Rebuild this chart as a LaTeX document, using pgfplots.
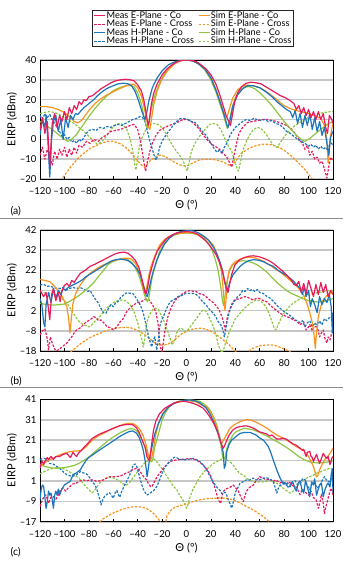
\documentclass[border=0pt]{standalone}
\usepackage{fontspec}
\setmainfont{Lato}
\usepackage{pgfplots}
\pgfplotsset{compat=1.18}

\definecolor{cpink}{RGB}{232,28,90}
\definecolor{corange}{RGB}{247,148,30}
\definecolor{cblue}{RGB}{28,117,188}
\definecolor{cgreen}{RGB}{141,198,63}
\definecolor{cgrid}{RGB}{198,198,198}

\pgfplotsset{
  co/.style={line width=1.2pt, solid, line join=round},
  cross/.style={line width=1.2pt, dash pattern=on 2.4pt off 1.5pt, line join=round},
  meco/.style={co, color=cpink, draw=cpink},
  mecr/.style={cross, color=cpink, draw=cpink},
  seco/.style={co, color=corange, draw=corange},
  secr/.style={cross, color=corange, draw=corange},
  mhco/.style={co, color=cblue, draw=cblue},
  mhcr/.style={cross, color=cblue, draw=cblue},
  shco/.style={co, color=cgreen, draw=cgreen},
  shcr/.style={cross, color=cgreen, draw=cgreen},
  panel/.style={
    scale only axis, width=293pt, anchor=north west,
    xmin=-120, xmax=120,
    xtick={-120,-100,...,120},
    xticklabels={–120,–100,–80,–60,–40,–20,0,20,40,60,80,100,120},
    xtick pos=bottom, ytick pos=left,
    tick align=inside, major tick length=3pt,
    ytick style={draw=none},
    xtick style={black, line width=0.5pt},
    ymajorgrids, grid style={cgrid, line width=1.6pt},
    axis line style={black, line width=0.8pt},
    tick label style={font=\fontsize{9.6}{11}\selectfont},
    label style={font=\fontsize{11}{12}\selectfont},
    xticklabel style={anchor=center, yshift=-12.5pt},
    xlabel={Θ (°)},
    ylabel={EIRP (dBm)},
    xlabel style={at={(axis description cs:0.5,0)}, anchor=center, yshift=-26.5pt},
    ylabel style={at={(axis description cs:-0.0956,0.5)}, anchor=center},
    no markers,
  },
}

\begin{document}
\begin{tikzpicture}
\useasboundingbox (0pt,0pt) rectangle (350pt,-563pt);

% ---------------- panel (a) ----------------
\begin{axis}[panel, at={(40pt,-60pt)}, height=119pt,
  ymin=-20, ymax=40, ytick={-20,-10,...,40},
  yticklabels={–20,–10,0,10,20,30,40},
  legend columns=2, legend cell align=left,
  legend image code/.code={\draw[#1] (0pt,0pt) -- (11pt,0pt);},
  legend style={at={(axis description cs:0.1775,1.42)}, anchor=north west,
    draw=black!85, line width=0.6pt, fill=white, inner xsep=1.5pt, inner ysep=1.2pt,
    row sep=0pt, font=\fontsize{9.2}{9.5}\selectfont,
    nodes={inner xsep=0.6pt, inner ysep=0pt, text height=6.8pt, text depth=1.7pt},
    /tikz/every even column/.append style={column sep=3.5pt}},
]
\addlegendimage{meco}\addlegendentry{Meas E-Plane - Co}
\addlegendimage{seco}\addlegendentry{Sim E-Plane - Co}
\addlegendimage{mecr}\addlegendentry{Meas E-Plane - Cross}
\addlegendimage{secr}\addlegendentry{Sim E-Plane - Cross}
\addlegendimage{mhco}\addlegendentry{Meas H-Plane - Co}
\addlegendimage{shco}\addlegendentry{Sim H-Plane - Co}
\addlegendimage{mhcr}\addlegendentry{Meas H-Plane - Cross}
\addlegendimage{shcr}\addlegendentry{Sim H-Plane - Cross}

\addplot[secr] coordinates {(-120,-30)(-110,-25)(-102,-20)(-95,-14)(-88,-9)(-80,-5)(-72,-2.5)(-65,-1)(-60,-1)(-55,-2)(-50,-4)(-45,-7)(-40,-11)(-36,-13.5)(-34,-14)(-30,-11)(-26,-9)(-22,-8)(-18,-8.5)(-14,-10)(-10,-11.5)(-5,-13)(0,-13.5)(5,-12)(10,-10.5)(15,-10)(20,-10)(25,-10.5)(30,-11.5)(35,-13)(37,-13.5)(40,-11)(45,-7)(50,-5)(55,-3.5)(62,-2.5)(68,-2.5)(74,-3.5)(80,-5.5)(86,-8.5)(92,-12)(98,-16)(103,-20)(110,-26)(120,-32)};
\addplot[shcr] coordinates {(-120,13)(-116,13.5)(-112,14)(-108,13.5)(-104,12.5)(-100,11)(-96,9.5)(-92,8)(-88,6)(-84,4)(-80,1.5)(-76,-1)(-73,-2.5)(-70,-1.5)(-67,0.5)(-64,3)(-61,5.5)(-58,7.5)(-55,8)(-52,7.5)(-49,5)(-46,0)(-44,-6)(-42.5,-12)(-41.5,-15.5)(-40.5,-12)(-39,-5)(-37,0)(-34,4)(-31,6.5)(-28,8)(-25,8)(-22,7)(-19,5)(-16,2)(-13,-1.5)(-10,-4.5)(-7,-7)(-4,-9.5)(-2,-12)(0.5,-16)(2,-12)(4,-6)(7,-2)(10,1)(13,3.5)(16,5.5)(19,7.5)(22,8)(25,7.5)(28,5)(31,1)(34,-3)(37,-6)(39,-10)(41,-14)(42.5,-16)(44,-12)(46,-6)(49,-1)(52,2.5)(55,5)(58,6)(61,5.5)(64,3.5)(67,1)(70,-2)(72,-3.5)(74,-4)(76,-2.5)(79,0.5)(83,3.5)(88,6.5)(93,8.5)(98,10.5)(103,12)(108,13)(113,13.5)(118,14)(120,14)};
\addplot[mecr] coordinates {(-120,-8)(-118,-4)(-116,-10)(-114,-5)(-112,-9)(-110,-13)(-108,-6)(-106,-10)(-104,-5)(-102,-8)(-100,-4)(-98,-9)(-96,-5)(-94,-8)(-92,-4)(-90,-7)(-88,-3)(-85,-4)(-82,-1)(-79,-2)(-76,0)(-72,-1)(-69,1)(-66,2)(-62,4)(-58,4.5)(-54,5)(-50,6)(-46,7)(-43,7.5)(-40,5)(-38,0)(-36,-7)(-34.5,-13)(-33.5,-16)(-32,-11)(-30,-6)(-28,-2)(-25,2)(-22,4.5)(-18,6)(-14,7)(-10,8)(-6,9)(-3,10)(0,10)(3,9.5)(6,8)(10,5.5)(14,2)(18,-1)(22,-3)(26,-4.5)(30,-7)(33,-9)(35.5,-12)(37,-14)(39,-8)(41,-2)(43,3)(46,6)(50,8.5)(54,9)(58,9.5)(62,10)(66,10)(70,9.5)(74,9)(78,8)(82,7)(86,5)(89,3)(92,0)(95,-2)(97,-5)(99,-3)(101,-8)(103,-6)(105,-10)(107,-9)(109,-12)(111,-11)(113,-15)(115,-19.5)(116.5,-14)(118,-9)(120,-11)};
\addplot[mhcr] coordinates {(-120,12)(-118,10)(-116,13)(-114,11)(-112,12.5)(-110,10)(-108,8)(-106,6)(-104,4)(-102,1.5)(-100,2.5)(-98,0)(-96,1)(-94,-1.5)(-92,-0.5)(-90,-2)(-88,0)(-86,-1)(-84,1)(-82,3)(-80,4.5)(-77,5)(-74,4.5)(-71,6)(-68,5.5)(-65,6.5)(-62,6)(-59,7)(-56,7.5)(-53,7)(-50,8)(-47,9)(-44,10)(-41,10.5)(-38,11.5)(-36,11)(-34,9)(-32,4)(-30,-1)(-28,-5)(-26,-9)(-25,-10.5)(-23.5,-8)(-22,-4)(-20,-1)(-17,2)(-14,4.5)(-11,7)(-8,9)(-5,10.5)(-2,10.5)(1,10)(4,9)(7,8.5)(10,6.5)(13,4)(16,2)(19,-1)(21,-3)(23,-5)(25,-6.5)(27,-5.5)(29,-7)(31,-4)(33,-2)(35,1)(37,3.5)(40,6)(43,7.5)(46,9)(49,10)(52,9.5)(55,10.5)(58,10)(61,9.5)(64,10)(67,9)(70,9.5)(73,8)(76,7.5)(79,6)(82,4)(85,3)(88,1.5)(91,0)(94,-1)(97,-2)(100,-3.5)(102,-2.5)(104,-4)(106,-3)(108,-5)(110,-3.5)(112,-5)(114,-4)(116,-6)(117.5,-1)(120,-3)};
\addplot[shco] coordinates {(-120,9)(-115,7)(-110,5)(-105,2.5)(-100,0)(-97,-1)(-94,0)(-90,2.5)(-85,7)(-80,11.5)(-75,15.5)(-70,19)(-65,22)(-60,24.5)(-55,26)(-50,27)(-46,27.3)(-43,26.5)(-40,23.5)(-37,18)(-35,12)(-33,7)(-32,5.5)(-31,8)(-29,15)(-26,22)(-22,28.5)(-18,33)(-14,36)(-10,38.3)(-5,39.6)(0,40)(5,39.6)(10,38)(15,35)(20,30)(24,24)(27,18.5)(30,13)(32,8.5)(33.5,5.5)(35,9)(37,15)(40,21)(44,25)(48,26.5)(52,26.5)(56,25.5)(60,23.5)(65,20.5)(70,17)(75,13)(80,9)(85,5.5)(90,2)(95,-0.5)(97,-1)(100,0)(105,2.5)(110,5)(115,7.5)(120,9)};
\addplot[seco] coordinates {(-120,16.5)(-115,16.5)(-110,16)(-105,15)(-100,13.5)(-96,11.5)(-92,9)(-89,8.3)(-86,9.5)(-83,12)(-80,14.5)(-75,18)(-70,20.5)(-65,22.5)(-60,24)(-55,25.5)(-50,26.8)(-46,27.8)(-43,27.8)(-40,26)(-37,22)(-35,17)(-33,11)(-31,6)(-30,5)(-29,9)(-27,17)(-24,24.5)(-20,30.5)(-15,35)(-10,38)(-5,39.6)(0,40)(5,39.6)(10,38.2)(15,35.5)(20,31)(24,25.5)(27,20)(30,14.5)(32,11.5)(33,11)(35,15)(38,21)(42,25)(46,26.8)(50,27.3)(55,27)(60,26)(65,24.3)(70,22)(75,19.5)(80,17)(85,15.5)(90,14.5)(95,13.8)(100,13)(105,12)(110,10.5)(113,7)(115,0)(116,-12)(117,-6)(118,2)(120,8)};
\addplot[mhco] coordinates {(-120,2)(-118,10)(-116,6)(-115,12)(-113.5,-1)(-112,-19)(-110.5,0)(-109,9)(-107,12)(-105,4)(-103,10)(-101,0)(-99,11)(-97,6)(-95,12)(-93,10)(-91,13)(-89,12.5)(-87,14)(-84,16)(-80,18)(-76,20)(-72,22.5)(-68,24.5)(-64,26)(-60,27)(-56,28)(-52,28.3)(-48,28)(-45,27)(-42,24)(-39,19)(-37,15)(-35,11.5)(-34,10)(-33,12)(-31,19)(-28,26)(-24,31)(-20,34.5)(-15,37.5)(-10,39)(-5,39.8)(0,40)(5,39.5)(10,38)(15,35.5)(20,31)(24,25)(28,18)(31,12)(33,7.5)(34,6)(35.5,9)(38,17)(42,22.5)(46,25.5)(50,27)(55,27)(60,26)(65,24)(70,21.5)(74,19)(78,17)(82,15)(85,14)(87,11)(89,14.5)(91,8)(93,13)(95,6)(97,12)(99,7)(101,13)(103,5)(105,11)(107,4)(109,9)(111,2)(113,6)(115,-2)(116.5,-8)(118,1)(120,4)};
\addplot[meco] coordinates {(-120,5)(-118,11)(-116,3)(-114,9)(-112,-14)(-110,8)(-108,13)(-106,6)(-104,12)(-102,9)(-100,14)(-98,10)(-96,16)(-94,13)(-92,17)(-90,15)(-88,19)(-86,17.5)(-84,20)(-82,19.5)(-80,21.5)(-77,22)(-74,23.5)(-70,25.5)(-66,27)(-62,28.5)(-58,29.5)(-54,30)(-50,30.3)(-46,30)(-43,29.5)(-40,27.5)(-37,24.5)(-35,20)(-33,13)(-31.5,7)(-30.5,9)(-29,17)(-27,23)(-24,28)(-20,32.5)(-16,35.5)(-12,37.5)(-8,39)(-4,39.8)(0,40)(4,39.8)(8,39.2)(12,37.5)(16,35.5)(20,32.5)(24,28)(27,23)(30,17)(32.5,12)(34.5,9)(36,7)(37.5,12)(39.5,19)(42,23.5)(45,26.5)(49,28.3)(53,28.8)(57,28.5)(61,28)(65,26.5)(69,25)(73,23.5)(77,22)(81,21)(85,19.5)(88,18)(90,15)(92,17)(94,13)(96,16)(98,12)(100,15)(102,11)(104,14)(106,10)(108,14)(110,10)(112,13)(114,6)(115.5,3)(117,12)(119,10)(120,8)};
\end{axis}

% ---------------- panel (b) ----------------
\begin{axis}[panel, at={(40pt,-230pt)}, height=121pt,
  ymin=-18, ymax=42, ytick={-18,-8,...,42},
  yticklabels={–18,–8,2,12,22,32,42},
]
\addplot[secr] coordinates {(-97,-20)(-94,-18)(-90,-16)(-86,-14)(-82,-12.5)(-78,-11)(-74,-10)(-70,-9)(-66,-8)(-62,-7.3)(-58,-6.8)(-54,-6.4)(-50,-6.3)(-46,-6.5)(-42,-7.3)(-38,-8.5)(-34,-10)(-30,-12)(-27,-13.5)(-24,-14.5)(-21,-15)(-18,-15)(-15,-14.5)(-12,-13.5)(-9,-12)(-6,-10.5)(-3,-9.2)(0,-8.2)(4,-7.3)(8,-6.8)(12,-6.7)(16,-7.2)(20,-8.3)(24,-9.7)(28,-11.5)(32,-13.5)(35,-15)(38,-17)(41,-18.5)(44,-20)(47,-21)(50,-19)(53,-17)(57,-16)(61,-15.3)(65.6,-15)(70,-15)(74,-15.5)(78,-16.5)(82,-17.5)(86,-18.8)(89,-20)};
\addplot[shcr] coordinates {(-120,11.4)(-116,11)(-112,10.6)(-108,10)(-104,9)(-100,7)(-97,5)(-95,3)(-93,1)(-91,-1)(-89,-2.6)(-87,-4)(-84,-5)(-82,-5.5)(-80,-6)(-78,-5.5)(-76,-4)(-74,-2.5)(-71,-1)(-68,1.5)(-65,3.5)(-62,5)(-59,6.3)(-56,7)(-53,7.3)(-50,7)(-48,6)(-45,4)(-43,1.5)(-41,-2)(-39.5,-5)(-38,-9)(-37,-11.5)(-36,-14)(-35.4,-16)(-34.5,-13)(-33.5,-8)(-32.5,-4)(-31,-1)(-29,1.5)(-27,3)(-25,3.2)(-23,2.5)(-21,0)(-19,-2.5)(-17,-5.5)(-15,-9)(-13,-12.5)(-12,-15)(-11,-14)(-9.5,-12.5)(-8,-9)(-6,-7)(-4,-6.8)(-2.5,-7.5)(-1,-8.5)(1.3,-7.5)(3,-6)(5.5,-4)(8,-2)(11,0.7)(13.5,2.3)(15.5,2)(17.6,0)(19.5,-2.5)(22,-6)(24,-9.5)(26,-15)(27.5,-17)(29,-19)(30.5,-17)(32,-14)(33,-12.5)(35,-8.5)(37,-6)(40,-2)(43.8,0.7)(48,3.5)(52,5.6)(57,7.3)(60,7)(63,5.6)(65.5,3.5)(68,0)(70,-3.5)(72,-7)(73.5,-7.5)(75,-5)(77,-2.5)(79,0)(82,2.5)(85,4.5)(88,6)(92,7.5)(96,9)(100,9.8)(104,10.6)(108,11)(112,11.4)(116,11.8)(120,12.2)};
\addplot[mecr] coordinates {(-120,-10)(-118,-8)(-116,-7)(-114,-12)(-113,-17.5)(-111.5,-11)(-110,-14)(-108,-17)(-106.5,-18)(-104,-17)(-102,-16)(-100,-15)(-98,-14)(-96,-12.5)(-94,-11)(-92,-9)(-90,-7.6)(-87,-6.5)(-84.5,-5)(-82,-3.5)(-79,-2.6)(-76,-1)(-74,-1.5)(-72,-3)(-70,-2.6)(-67,-4.5)(-65,-6)(-62,-6.5)(-60,-7.5)(-57,-6)(-55,-4)(-52,-2)(-49,1.5)(-46,3.5)(-43,5)(-40,6)(-37,6.5)(-34,7.5)(-32,8)(-30,7)(-27,4)(-25,1)(-24,-2)(-23,-6)(-22,-14)(-21,-17)(-20,-18.3)(-19,-14)(-17.6,-7.6)(-15.5,-1.5)(-13.5,2)(-11,5.5)(-8,8)(-5,9.5)(-2.7,10.6)(0,11.5)(3,12)(6,11.5)(8,11.5)(10,10.5)(13.5,10)(16,9)(19,7.3)(22,6)(25,4)(27,2)(29,-1)(30.5,-4)(31.6,-7.6)(32.5,-5)(33.5,-1)(35.6,3)(38,6.5)(40,7.5)(43.8,8)(47,8.8)(49,9)(52,8)(54.7,7.3)(57,8)(60,8)(63,7)(65.6,6.5)(68,5)(71,3.5)(74,2)(76.5,0.7)(79,0)(82,-1)(85,-1.5)(87.5,-2.6)(90,-3)(93,-5)(96,-3.5)(98,-7.6)(100,-6)(101,-5)(103,-8)(104.5,-6)(106.5,-6)(108,-8)(109,-11)(110.5,-9)(112,-7.6)(113.5,-12)(115,-14)(116,-11)(117.5,-12.5)(119,-9)(120,-9)};
\addplot[mhcr] coordinates {(-120,14.7)(-117,15)(-114,14)(-112,14.3)(-109,13.5)(-106,13)(-104,13)(-101,13.5)(-98,12.5)(-96,13)(-93,13.5)(-90,13)(-87,13.5)(-84,12.5)(-81,11.5)(-79,12)(-77,10)(-75,8)(-72.5,6)(-70,3)(-68,1)(-66,0.7)(-64,3)(-62,5)(-60,4)(-58,6)(-56,6.5)(-54,8.5)(-52,9.5)(-50,10.5)(-48,11)(-46,10.5)(-44,10.5)(-42,9)(-40,7)(-38,5)(-36,2)(-34,-2.6)(-32.5,-7)(-31,-11)(-29.5,-14)(-28.5,-16)(-27.5,-13)(-26,-11)(-25,-15)(-24.4,-17.5)(-23,-12)(-22,-6)(-20.5,-3)(-19,-1)(-17,2)(-15,4.8)(-13,6.5)(-11,7.3)(-9,8)(-7,9)(-4,9.5)(-1,10.5)(3,10.6)(6,10.5)(8,10)(10,9)(12,7.3)(14,6)(16,4.8)(19,2.5)(22,0.7)(24,-1)(26,-3.5)(28,-5)(29,-6)(30,-8)(31,-11)(32,-8)(33,-4)(34.5,0)(36,3)(38,5.5)(40,7.3)(42,9)(44,10)(46,12)(48,11.5)(50,13)(52,12)(54,12.5)(56,11.5)(58,12.5)(60,11)(63,10.5)(66,9)(69,8)(72,6)(75,4)(78,2.5)(81,1)(84,0)(87,-1.5)(89,-2.6)(91,-3)(93,-4)(95,-3)(97,-6)(99,-4)(101,-3)(103,-6)(105.5,-4)(107,-6)(109,-3)(111,-5)(113,-2)(115,-3)(117.5,-1)(120,-1.5)};
\addplot[shco] coordinates {(-120,5.6)(-116,5.2)(-112,4.9)(-108,4.8)(-104,5)(-100,5.3)(-96,6.5)(-92,8)(-88,9.5)(-84,11.5)(-80,13.5)(-76,16)(-72,19)(-68,22)(-64,25)(-60,26.5)(-56,27.3)(-52,27.6)(-48,27.3)(-45,26)(-42,23.5)(-39,19.5)(-36.5,14.5)(-34.5,10)(-33,7.5)(-32,6.5)(-31,8)(-29.5,13.5)(-28,19)(-25,25.5)(-22,31.5)(-18,35.5)(-14,38)(-10,39.5)(-5,40.3)(0,40.5)(5,40.3)(10,39.5)(14,38)(18,35.5)(21,32)(23.5,27.5)(25.5,23)(27,18)(28.5,12)(29.5,6.5)(30.5,4.5)(31.5,9)(33,16)(35,21.5)(38,24.8)(42,26.3)(46,26.8)(50,26.5)(54,25.8)(58,24.7)(62,23)(66,21)(70,18.5)(74,16)(78,14)(82,12)(86,10.5)(90,9.5)(95,8)(100,7)(104,6.5)(108,6.3)(112,6.5)(116,7.2)(120,8)};
\addplot[seco] coordinates {(-120,17.5)(-116,17)(-112,16.4)(-108,14)(-104,11.4)(-101,8)(-98,4)(-96.5,-2)(-95.5,-9)(-94.5,-3)(-93,5.6)(-91,10)(-89,12.5)(-87,14.7)(-83,18)(-79,20.5)(-75,22.3)(-71,23.8)(-67,25)(-63,26)(-59,26.8)(-55,27.5)(-51,28)(-48,28)(-45,27.5)(-42,25.5)(-39,22)(-37,18)(-35.5,13)(-34.5,11)(-33.5,10.6)(-32.5,14)(-31,19)(-29,24)(-26,29)(-22,34.5)(-18,37.2)(-14,38.8)(-10,39.8)(-5,40.5)(0,40.7)(5,40.5)(10,39.8)(14,38.8)(18,37)(22,34.5)(25,30)(27,26)(28.5,22)(29.5,16)(30.5,9)(31.5,2)(32.5,8)(33.5,17)(35,22)(37,24.5)(40,26.3)(44,27.5)(48,28.3)(52,28.5)(56,28.2)(60,27.3)(64,26.2)(68,24.7)(72,23)(76,21.5)(80,19.5)(84,17.5)(88,15.5)(92,13)(96,9.5)(99,5)(101,1)(103,-4)(104.5,-10)(105.5,-16.7)(106.5,-9)(108,-1)(110,4)(112,7.3)(115,9.5)(118,10.6)(120,11.4)};
\addplot[mhco] coordinates {(-120,8)(-118.5,5)(-117,-4)(-116,-6)(-115,5)(-113,11)(-111,6)(-109,13)(-107,8)(-105,12)(-103,10)(-101,13)(-99,12)(-97,13.5)(-94,14.5)(-90,15.6)(-86,17)(-82,19)(-78,20.5)(-74,22)(-70,23.5)(-66,25)(-62,26.5)(-58,27.3)(-54,27.6)(-50,27.2)(-47,26.5)(-44,25)(-41,23)(-38,20)(-36,16)(-34,12)(-33,9.5)(-32,9)(-31,12)(-29,17.5)(-27,22)(-24,27.5)(-21,31.5)(-18,35)(-14,38)(-10,40)(-6,41)(-2,41.5)(2,41.7)(6,41.5)(10,40.5)(14,39)(18,37)(22,33.5)(25,30)(27.5,26)(29.5,22)(31,17)(32.5,13)(33,12)(34.5,14)(36,17)(38,19.7)(41,22)(44,24)(47,25.5)(51,26.8)(55,27.3)(59,27)(63,26.3)(67,25)(71,24)(75,22)(79,20.5)(83,19)(87,17)(90,15)(93,13)(95,10)(96.5,14)(98,9)(100,12)(101.5,4)(103,8)(105,5)(107,1)(109,9)(111,5)(113,8)(115,6)(117,10)(118.5,4)(119.5,-9)(120,1)};
\addplot[meco] coordinates {(-120,12)(-117,9)(-115,11)(-113.5,5)(-112,-2.5)(-110.5,10)(-109,13)(-107,7)(-105,11)(-103.5,6.5)(-102,12)(-100,14.5)(-98,15.5)(-96,14)(-94,17)(-92,16)(-90,18)(-87,20.5)(-83,22)(-79,24)(-75,25)(-71,26.3)(-67,27.5)(-63,28.8)(-59,30)(-55,30.8)(-51,31)(-48,30.5)(-45,29)(-42,27)(-39,23.5)(-37,19)(-35.5,15)(-34,11)(-33,10.5)(-32,13)(-30,20)(-27,26.5)(-24,31.5)(-20,35)(-16,38)(-12,39.5)(-8,40.5)(-4,41)(0,41.2)(4,41)(8,40.3)(12,38.5)(16,36.5)(20,33.5)(24,30)(27,26)(29.5,21.5)(31.5,16)(33,12.5)(34,11)(35,14)(37,20)(39.5,24.5)(43,27)(47,28.3)(51,29)(55,29.2)(59,28.8)(63,28)(67,27)(71,25.5)(75,23.5)(79,21.5)(83,19)(86,17)(88,15)(90,14.5)(92,16.5)(94,11)(96,15.5)(98,10.5)(100,17)(102,13)(104,9)(106,15)(108,10)(110,16)(112,11)(114,15)(116,9)(118,12)(120,10)};
\end{axis}

% ---------------- panel (c) ----------------
\begin{axis}[panel, at={(40pt,-399.3pt)}, height=122.4pt,
  ymin=-19, ymax=41, ytick={-19,-9,1,11,21,31,41},
  yticklabels={–17,–9,1,11,21,31,41},
]
\addplot[secr] coordinates {(-74,-20)(-71,-19)(-68,-17.5)(-65,-16.4)(-61,-15)(-57,-14)(-53,-13)(-49,-12.3)(-45,-11.8)(-41,-11.6)(-37,-11.8)(-33,-12.4)(-30,-13.5)(-27,-15)(-24,-17)(-21.5,-19)(-20,-21)(-17.5,-21)(-16,-16)(-13,-13.5)(-10,-12)(-6,-11.2)(-2.7,-10.8)(2,-9.8)(6,-9)(11,-8.3)(16,-7.8)(22,-7.5)(27,-7.4)(33,-7.5)(38,-8.3)(43.8,-9.8)(49,-11.5)(54.7,-13.2)(59,-15)(63,-16.5)(66,-18)(69,-19.5)(72,-21)};
\addplot[shcr] coordinates {(-120,4.5)(-116,5.7)(-112,6.8)(-108,7.3)(-104,7.4)(-100,6.8)(-96,5.5)(-92,4)(-88,2.3)(-85,0)(-82,-2)(-79.5,-3.5)(-77.5,-4.8)(-76,-4.3)(-73.5,-2)(-71,0)(-68,1.7)(-65,2.5)(-62,2.8)(-59,2.3)(-56,1.3)(-53,0)(-50.5,-0.8)(-49,-1)(-47,0)(-45,1.5)(-43.6,2.8)(-41,4.8)(-38,7.2)(-35,9.3)(-32.7,10.4)(-30.5,11.5)(-28.5,12)(-26.5,11.7)(-24.4,10.4)(-22,8.5)(-19,6.4)(-16.5,3.5)(-14,1.5)(-11,-1.5)(-8,-3.3)(-5,-6.5)(-2.7,-8.6)(-1,-10.5)(0,-12.4)(1,-11)(2.7,-7.3)(5,-3.5)(8,-0.2)(10.5,2.5)(13.5,4.8)(16,6.5)(19,8)(22,9.5)(25,10.5)(28,11.5)(30,12)(32,11.8)(35.6,10.4)(38,9)(40,7.2)(43,5)(46.5,3.8)(50,2)(54.7,0.6)(59,0.5)(63,0.6)(66,1)(68,1.4)(71,0.7)(74,-0.2)(77,-1.3)(79,-2.5)(82,-3.8)(85,-5)(87.5,-4)(90,-2)(93,0)(96,1.5)(98.5,2.4)(101,3.1)(104,3.8)(106.5,4.8)(110,5.5)(113,6.3)(117.5,7.2)(120,6.4)};
\addplot[mecr] coordinates {(-120,-11.6)(-118,-8.3)(-116,-6)(-115,-5.9)(-113,-10)(-111,-7)(-109,-6.7)(-107,-8)(-105,-5.9)(-103,-3)(-101,-2.6)(-99,-4)(-97,-2.5)(-95,-1.5)(-93,-0.5)(-90,0)(-87,1)(-84.5,1.5)(-82,1)(-79,1.5)(-76,1.5)(-74,0.8)(-71,1)(-68,1.5)(-65,2.5)(-63,3.1)(-60,3)(-57,3.1)(-54,3.5)(-52,4)(-49,5)(-46.5,5.5)(-44,6.5)(-41,7.2)(-39,6.5)(-37,4.7)(-35,3)(-32.7,1.5)(-31,-0.5)(-29.4,-1.8)(-28,-1.5)(-27,-0.2)(-25,2)(-23,4)(-21,5.5)(-19,7.2)(-16,9)(-14,10.4)(-11,11)(-8,11.3)(-5,11.5)(-2.7,11.6)(0,11.8)(2.7,12)(5,11.6)(8,11.3)(10,10.5)(12,9.6)(14,8.5)(16,7.2)(18,5.5)(20,3.1)(21.5,0.5)(23,-1.8)(24.5,-5)(26,-8.3)(28,-10)(29,-7)(30,-4.3)(32,-3)(34,-2.6)(36,-2)(38,-1)(40.5,-2.5)(42.5,-4)(43.8,-5.9)(45,-7.5)(46.5,-9.2)(48,-6)(49,-4.3)(51,-2.5)(54.7,-1)(57,1)(60,3.1)(62,2.5)(65.6,1.5)(68,2)(71,0.7)(73,1.5)(76.5,0)(79,0.5)(82,-0.7)(84,0.5)(87.5,-1.5)(90,-2)(93,-5.7)(95,-3)(98,-4.9)(100,-6)(102,-4)(104,-7.3)(106,-8)(108,-12.4)(109.5,-9)(110.5,-5.5)(112,-10)(113,-15)(114,-12)(116,-7.6)(117.5,-4)(118.7,-2.6)(120,-5.9)};
\addplot[mhcr] coordinates {(-120,11.3)(-118,12)(-116,12)(-114,11)(-112,9.5)(-110,9.5)(-108,8.8)(-106,8)(-104,7.2)(-101,5.5)(-98,4)(-95.5,3.5)(-93,3.3)(-90,4)(-87,5.6)(-85,5)(-83,4.8)(-81,4)(-79,2.3)(-77,0.5)(-75,-1)(-73.5,-3)(-72.5,-5.1)(-71,-8)(-70,-10.8)(-68.5,-8)(-67,-6.5)(-65,-5.5)(-63,-4.8)(-61.5,-6)(-60,-7.5)(-58.5,-5)(-57,-3.7)(-56,-5.5)(-54.7,-7)(-53,-4)(-50.6,-1)(-48.5,1.5)(-46.5,4)(-45,6.5)(-43.6,8.8)(-42,9.3)(-41,8.6)(-39.5,5.5)(-38,2)(-36.5,-1)(-35.4,-3)(-34,-4.5)(-32.7,-5.9)(-30.5,-5.5)(-28.5,-4.3)(-26.5,-3.5)(-24.4,-1.8)(-22,1.5)(-20.5,4)(-19,6.4)(-17.5,8)(-16,8.8)(-14,10.4)(-12,11.5)(-10,12.6)(-8,12.4)(-6,11.6)(-3,11.5)(0,11.3)(3,11.8)(5.5,12)(8,11.5)(11,10.4)(13.5,9)(16,7)(19,3.5)(22,0.4)(24,-1.5)(26,-2.8)(28,-4)(29,-5.3)(30.5,-5)(31.6,-4.5)(33,-6)(34,-7.9)(35.5,-10)(37,-12.4)(38.5,-9)(40,-4.6)(42,-2.5)(43.8,-0.2)(46,0.5)(49,1.5)(51,1.3)(54.7,2.4)(57,1.5)(60,1.5)(63,2.4)(65.6,2.5)(68,2)(71,0.7)(72.5,-2)(74,-5)(75.5,-2)(76.5,-1.3)(79,-0.5)(80.5,-0.5)(83,0)(85,-1.3)(87,0.5)(89,1.1)(91,-1)(93,-0.5)(95,2)(97,1.7)(99,-1.5)(101,-3.2)(103,0)(105,0)(107,-2.5)(109,-1.5)(111,1)(113,3.1)(115,1)(117.5,0.5)(119,2.5)(120,4.7)};
\addplot[shco] coordinates {(-120,8.8)(-115,8)(-110,7.3)(-105,7.2)(-100,7.5)(-96,8)(-92,8.6)(-88,9.6)(-84,11)(-80,12.7)(-76,14.8)(-72,16.8)(-68,18.8)(-64,20.8)(-60,22.5)(-56,24)(-52,25.3)(-48,26.3)(-45,26.6)(-42.5,26.3)(-40,25)(-38,23)(-36,20.5)(-34,17.7)(-32,14.5)(-30.5,12)(-29.5,10.6)(-28.5,10.4)(-27.5,12)(-26,17.7)(-23,24)(-20,30.9)(-17,34.7)(-14,37.5)(-10,39.3)(-6,40.1)(-2,40.5)(2.7,40.7)(7,40.4)(11,40)(14,38.8)(17.6,37)(20,35)(23,31.2)(25,28)(27.5,22)(28.5,17.5)(29.7,12.5)(30.5,12)(31.5,12.5)(33,16.7)(35,20)(38,23.5)(40.5,25)(43.8,26)(47,26.7)(50,26.6)(54.7,26)(59,25)(63,23.8)(67,22.6)(71,21.2)(75,20)(79,18.5)(83,17)(87.5,15)(92,13)(96,11.5)(100,10.5)(104,10)(108,9.8)(112,10)(116,10.3)(120,10.8)};
\addplot[seco] coordinates {(-120,8)(-116,10)(-112,11.3)(-108,12.5)(-104,13.7)(-100,14.6)(-96,15.3)(-92,15.6)(-87,15.8)(-84,16.8)(-82,17.8)(-80,19.3)(-77,21)(-72.5,23)(-68,24.3)(-64,25.6)(-60,26.8)(-56,27.7)(-52,28.7)(-48,29.2)(-45,29.2)(-42.5,28.7)(-40,27.5)(-37.5,25.5)(-35.4,23)(-33.5,19.5)(-32,16)(-31,13)(-30,11.5)(-29.4,11.3)(-28.5,12.5)(-27,17)(-25,24)(-23,29.2)(-20,33.5)(-16,36.6)(-12,38.5)(-8,39.4)(-4,40)(0,40.3)(4,40.1)(8,39.8)(12,38.3)(16,37.5)(19,35)(22,32)(24,28.5)(26,24.3)(27,21.5)(28,19.4)(29,19.5)(30.8,21.5)(33,24)(35.6,26.8)(39,28.5)(43.8,30)(49,31)(53,30.8)(57,29.8)(61,28.5)(65.6,27)(70,25)(74,23.5)(78,22.3)(82,21)(86,19.5)(90,17.8)(93,16.8)(96,16)(98,14.5)(100,13)(102,10.5)(104,8)(105.5,5)(106.5,3)(107.5,3.5)(109,6.3)(111,9)(113,11.3)(115,12.5)(117.5,14.5)(120,17)};
\addplot[mhco] coordinates {(-120,-8.3)(-119,-3)(-118,-1)(-117,-1.8)(-116,-7)(-115,-12.5)(-114,-9)(-113,-4)(-112,-6)(-111,-5)(-110,-8)(-109,-12.4)(-108,-6)(-107,-4)(-106,-6)(-105,-3)(-104,-6)(-102,-3)(-100,-1)(-98,-0.2)(-96,0.5)(-95,1)(-93,4)(-90,5)(-87,6.4)(-85,8.5)(-82,11.3)(-80,12.5)(-77,13.7)(-74,15)(-71,16.2)(-67,17.8)(-63,19.4)(-59,21)(-55,22.7)(-51,24)(-47,25.2)(-44,25.5)(-41,24.4)(-39,22.5)(-37,19.4)(-35.4,16)(-34,11.3)(-33,7)(-32.3,3.1)(-31.5,6)(-30,13)(-28,18.5)(-26,24)(-23,29)(-19,34.1)(-15,37)(-11,38.8)(-7,39.7)(-2.7,40.3)(2.7,40.7)(7,40.2)(11,39.3)(14,37.8)(16,36.8)(19,34)(22,30.3)(24,27)(26,23.8)(27.5,21)(29,18)(30,15)(31,7.2)(32,9)(33,15.5)(35,19)(37,21)(40,22.5)(43.8,24.3)(47,24.7)(52,24.8)(55,24)(57,23.5)(60,22)(63,21)(65,19.5)(67,17.8)(69,15)(71,11.3)(73,8)(75,4.7)(77,2)(79,-0.2)(81,0)(83,-2)(85,-1.8)(86.5,0.5)(87.5,-0.2)(89,-3)(90,-4)(91.5,0)(93,1)(94.5,-3)(96,-5)(97.5,1)(99,-2)(101,-6.7)(102.5,0.5)(104,-1)(105,2)(106.5,-6)(108,-3)(109,-1)(110.5,0)(112,-6.8)(113.5,-3)(115,-1)(116,0)(117.5,-2)(118.5,4)(119.5,7)(120,-5)};
\addplot[meco] coordinates {(-120,7.2)(-118.5,11)(-117,9)(-116,10.5)(-114,12.5)(-113,11.5)(-111,13)(-109,11.5)(-107,13)(-104,13)(-101,14)(-98,14.5)(-96,13)(-95,12.5)(-93,15)(-91,13.5)(-90,13)(-88,15)(-86,16)(-84,17.5)(-82,18.6)(-80,20)(-77,21.9)(-74,23)(-71,24)(-67,25)(-63,26)(-59,27)(-55,28)(-51,28.5)(-47,28.7)(-44,28.5)(-41,27)(-39,25)(-37,22)(-35,19)(-34,17.8)(-32.5,13)(-31,11.2)(-30,12)(-29,17)(-27,26)(-25,30.5)(-22,34)(-18,36.5)(-14,38)(-10,39.2)(-6,39.9)(-2,40)(2,39.6)(5.5,39)(9,38.2)(13.5,36.7)(16,35)(19,32.5)(22,29.5)(25,26)(27.5,21)(29,18.5)(30,17)(31,18)(33,21)(35,23.5)(38,26)(41,27.2)(44,27.6)(47,27.9)(49,28)(52,27.5)(55,26.8)(58,25.7)(60,25)(63,24.5)(65.6,24)(68,23)(70,23.5)(72,22.5)(74,21.5)(76.5,21.5)(79,22)(82,21.4)(85,20)(87.5,19)(90,18.5)(93,17)(95,16)(96,16.5)(97,14.5)(98,13)(99,15)(101,15.5)(102,13)(103,12.5)(104,10.5)(105,12)(106.5,14)(107.5,12)(109,9.6)(110.5,12)(112,14.5)(113.5,13)(115,12)(116,13)(117.5,9)(119,12)(120,13)};
\end{axis}

% panel tags and separators
\node[anchor=west, font=\fontsize{10.5}{11}\selectfont] at (7pt,-211pt) {(a)};
\node[anchor=west, font=\fontsize{10.5}{11}\selectfont] at (7pt,-381pt) {(b)};
\node[anchor=west, font=\fontsize{10.5}{11}\selectfont] at (7pt,-552.5pt) {(c)};
\draw[black!45, line width=0.7pt] (0pt,-218pt) -- (343pt,-218pt);
\draw[black!45, line width=0.7pt] (0pt,-387pt) -- (343pt,-387pt);
\end{tikzpicture}
\end{document}
